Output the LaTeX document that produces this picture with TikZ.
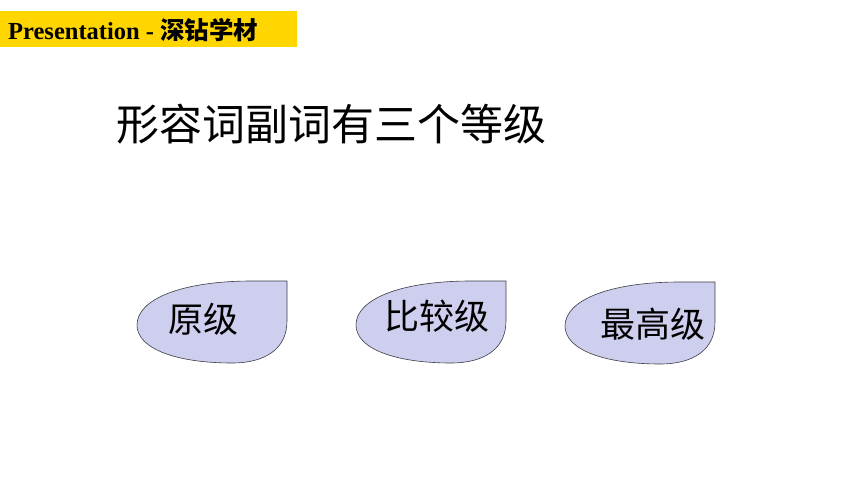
\documentclass[tikz,border=0pt]{standalone}
\usepackage{fontspec}
\setmainfont{Liberation Serif}
\newfontfamily\cjk{Noto Sans CJK SC}
\usepackage{xcolor}
\definecolor{bannerYellow}{RGB}{255,214,0}
\definecolor{dropFill}{RGB}{206,206,238}
\definecolor{dropLine}{RGB}{60,60,70}
\tikzset{
    banner-box/.style = {fill=bannerYellow, draw=none},
    drop-box/.style = {fill=dropFill, draw=dropLine, line width=0.6pt},
    drop-label/.style = {inner sep=0pt, font=\cjk\fontsize{35}{40}\selectfont},
    title-text/.style = {inner sep=0pt, font=\cjk\fontsize{43}{48}\selectfont},
    drop/.pic = {
        \path[drop-box] (150,0) -- (150,40) .. controls (150,68) and (128,82) .. (95,82)
            .. controls (40,82) and (0,68) .. (0,44) .. controls (0,18) and (45,0) .. (115,0) -- cycle;
    },
}

\begin{document}
\begin{tikzpicture}[x=1pt, y=-1pt]
\useasboundingbox (0,0) rectangle (860,484);
% banner in the top left corner
\path[banner-box] (0,11) rectangle (297,47);
\node[anchor=west, inner sep=0pt, font=\bfseries\fontsize{24.5}{28}\selectfont] (banner) at (8,30)
    {Presentation - {\cjk\bfseries 深钻学材}};
% heading
\node[title-text] (title) at (331,124) {形容词副词有三个等级};
% the three degrees
\pic at (137,281) {drop};
\pic at (356,281) {drop};
\pic at (565,282) {drop};
\node[drop-label] (positive) at (203,319) {原级};
\node[drop-label] (comparative) at (437,316) {比较级};
\node[drop-label] (superlative) at (653,324) {最高级};
\end{tikzpicture}
\end{document}
